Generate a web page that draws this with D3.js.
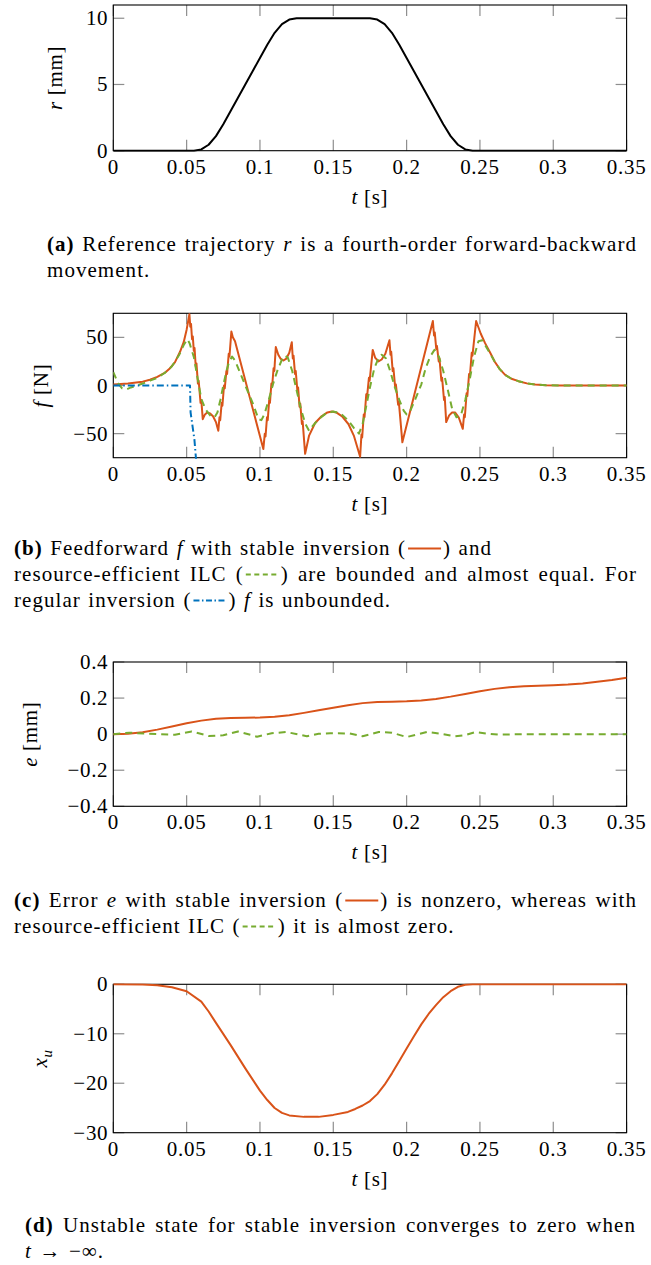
<!DOCTYPE html>
<html>
<head>
<meta charset="utf-8">
<script src="https://cdn.jsdelivr.net/npm/d3@7"></script>
<style>
body{margin:0;background:#fff}
svg text{font-family:"Liberation Serif","Times New Roman",serif;fill:#000;letter-spacing:0.7px}
svg .cap text{letter-spacing:1.05px}
</style>
</head>
<body>
<svg id="fig" width="651" height="1265"></svg>
<script>
// time axis shared by all four panels
var tTicks = [0, 0.05, 0.1, 0.15, 0.2, 0.25, 0.3, 0.35];
var tTickLabels = ["0", "0.05", "0.1", "0.15", "0.2", "0.25", "0.3", "0.35"];

// (a) reference trajectory r [mm]
var rT = [0, 0.05, 0.055, 0.06, 0.065, 0.07, 0.075, 0.08, 0.085, 0.09, 0.095, 0.1, 0.105, 0.11, 0.115, 0.12, 0.125,
          0.175, 0.18, 0.185, 0.19, 0.195, 0.2, 0.205, 0.21, 0.215, 0.22, 0.225, 0.23, 0.235, 0.24, 0.245, 0.25, 0.35];
var rV = [0, 0, 0, 0.1, 0.45, 1.1, 2.0, 3.0, 4.0, 5.0, 6.0, 7.0, 8.0, 8.9, 9.55, 9.9, 10,
          10, 9.9, 9.55, 8.9, 8.0, 7.0, 6.0, 5.0, 4.0, 3.0, 2.0, 1.1, 0.45, 0.1, 0, 0, 0];
var rTicks = [0, 5, 10];

// (b) feedforward f [N]
var fStable = [
  [0,1],[0.01,2],[0.02,4],[0.025,6],[0.03,9],[0.035,13],[0.0387,18],[0.042,24],[0.0455,35],[0.048,45],[0.05,58],[0.0519,74],
  [0.0525,61],[0.053,64],[0.0537,48],[0.0542,51],[0.0549,36],[0.0554,39],[0.0562,20],[0.0567,23],[0.0577,2],[0.0582,5],[0.0595,-18],[0.06,-15],[0.061,-35],
  [0.0625,-30],[0.064,-28],[0.066,-29],[0.068,-32],[0.07,-38],[0.0716,-47],
  [0.0724,-33],[0.0729,-36],[0.0739,-18],[0.0744,-21],[0.0755,0],[0.076,-3],[0.0771,15],[0.0776,12],[0.0787,33],[0.0792,30],[0.0805,56],
  [0.0815,50],[0.083,46],[0.1023,-66],
  [0.1033,-50],[0.1038,-53],[0.1048,-33],[0.1053,-36],[0.1063,-15],[0.1068,-18],[0.1078,2],[0.1083,-1],[0.1093,18],[0.1098,15],[0.1108,40],
  [0.1125,32],[0.114,28],[0.116,26],[0.118,28],[0.12,34],[0.1217,45],
  [0.1224,28],[0.1229,31],[0.1239,12],[0.1244,15],[0.1255,-5],[0.126,-2],[0.127,-22],[0.1275,-19],[0.1286,-40],[0.1291,-37],[0.1308,-71],
  [0.1335,-52],[0.1376,-39],[0.142,-32],[0.146,-28],[0.149,-27],[0.152,-28],[0.156,-32],[0.1603,-40],[0.164,-52],[0.1683,-74],
  [0.1692,-51],[0.1697,-54],[0.1708,-30],[0.1713,-33],[0.1725,-9],[0.173,-12],[0.1743,8],[0.1748,5],[0.1769,37],
  [0.1785,29],[0.1808,25],[0.183,27],[0.1855,33],[0.1883,47],
  [0.189,32],[0.1895,35],[0.1905,15],[0.191,18],[0.1922,-2],[0.1927,1],[0.1942,-20],[0.1947,-17],[0.1971,-59],
  [0.2179,67],
  [0.2187,52],[0.2192,55],[0.2202,38],[0.2207,41],[0.2219,25],[0.2224,28],[0.2237,5],[0.2242,8],[0.2255,-15],[0.226,-12],[0.227,-38],
  [0.229,-31],[0.231,-28],[0.233,-28],[0.2355,-33],[0.2383,-45],
  [0.2392,-30],[0.2397,-33],[0.2409,-8],[0.2414,-11],[0.2426,12],[0.2431,9],[0.2444,34],[0.2449,31],[0.2474,67],
  [0.2505,54],[0.2535,44],[0.257,34],[0.26,25],[0.2635,17],[0.2672,11],[0.2715,7],[0.2763,4.5],[0.282,2.2],[0.2877,1],[0.295,0.3],[0.305,0],[0.35,0]
];
var fIlc = [
  [0,14],[0.003,3],[0.006,-3],[0.009,-4],[0.012,-2],[0.016,0],[0.02,2],[0.025,5],[0.03,8],[0.035,13],[0.04,20],[0.045,32],[0.048,42],[0.0505,48],
  [0.052,44],[0.055,29],[0.058,3],[0.06,-14],[0.063,-25],[0.0665,-32],[0.069,-33],[0.071,-28],[0.073,-15],[0.075,0],[0.077,14],[0.079,25],[0.081,30],
  [0.083,26],[0.09,0],[0.095,-18],[0.099,-35],[0.101,-36],[0.103,-30],[0.106,-15],[0.109,2],[0.112,16],[0.115,27],[0.117,31],[0.119,29],[0.122,15],
  [0.125,-5],[0.128,-25],[0.131,-40],[0.1335,-47],[0.136,-42],[0.14,-35],[0.145,-29],[0.15,-27],[0.155,-29],[0.16,-36],[0.164,-44],[0.1675,-50],
  [0.17,-40],[0.172,-25],[0.175,-2],[0.178,18],[0.181,29],[0.183,32],[0.186,28],[0.189,14],[0.192,-2],[0.195,-15],[0.198,-26],[0.2,-30],[0.202,-28],
  [0.206,-14],[0.21,1],[0.213,18],[0.216,30],[0.219,37],[0.222,30],[0.225,15],[0.228,-4],[0.231,-24],[0.234,-33],[0.237,-31],[0.24,-15],[0.243,6],
  [0.246,30],[0.249,46],[0.2515,47],[0.2535,42],[0.257,33],[0.26,25],[0.2635,17],[0.2672,11],[0.2715,7],[0.2763,4.5],[0.282,2.2],[0.2877,1],
  [0.295,0.3],[0.305,0],[0.35,0]
];
var fRegular = [[0,0],[0.0523,0],[0.0527,-28],[0.0553,-56],[0.0566,-80]];
var fTicks = [-50, 0, 50];

// (c) error e [mm]
var eStable = [
  [0,0],[0.01,0.002],[0.02,0.01],[0.03,0.025],[0.04,0.042],[0.05,0.06],[0.06,0.075],[0.07,0.086],[0.08,0.09],[0.09,0.091],[0.1,0.092],
  [0.11,0.096],[0.12,0.105],[0.13,0.118],[0.14,0.132],[0.15,0.146],[0.16,0.16],[0.17,0.172],[0.18,0.178],[0.19,0.18],[0.2,0.182],
  [0.21,0.186],[0.22,0.195],[0.23,0.208],[0.24,0.223],[0.25,0.238],[0.26,0.251],[0.27,0.26],[0.28,0.265],[0.29,0.268],[0.3,0.271],
  [0.31,0.275],[0.32,0.281],[0.33,0.29],[0.34,0.3],[0.35,0.313]
];
var eIlc = [
  [0,0],[0.011,0.008],[0.022,0.003],[0.032,0],[0.042,-0.003],[0.0535,0.015],[0.065,-0.01],[0.075,-0.006],[0.085,0.015],[0.098,-0.014],
  [0.108,0.005],[0.118,0.012],[0.132,-0.012],[0.14,0.002],[0.148,0.005],[0.161,0.004],[0.17,-0.012],[0.181,0.012],[0.19,0.008],[0.2,-0.016],
  [0.214,0.012],[0.222,0.004],[0.233,-0.012],[0.24,-0.005],[0.247,0.012],[0.256,0.002],[0.263,-0.003],[0.28,0],[0.35,0]
];
var eTicks = [-0.4, -0.2, 0, 0.2, 0.4];
var eTickLabels = ["\u22120.4", "\u22120.2", "0", "0.2", "0.4"];

// (d) unstable state x_u
var xuT = [0, 0.02, 0.03, 0.04, 0.05, 0.06, 0.065, 0.07, 0.08, 0.09, 0.1, 0.105, 0.11, 0.115, 0.12, 0.13, 0.14, 0.15, 0.16, 0.165,
           0.17, 0.175, 0.18, 0.185, 0.19, 0.195, 0.2, 0.205, 0.21, 0.215, 0.22, 0.225, 0.23, 0.235, 0.24, 0.245, 0.35];
var xuV = [0, -0.05, -0.2, -0.6, -1.4, -3.5, -5.5, -7.8, -12.3, -17, -21.5, -23.4, -25, -26, -26.5, -26.8, -26.8, -26.4, -25.8, -25.2,
           -24.5, -23.6, -22.2, -20.3, -18, -15.5, -13, -10.5, -8.1, -6, -4.2, -2.6, -1.4, -0.5, -0.1, 0, 0];
var xuTicks = [-30, -20, -10, 0];

var RED = "#D95319", GREEN = "#77AC30", BLUE = "#0072BD";
var L = 113.3, R = 626.6, FS = 21;

var svg = d3.select("#fig");

function pairs(ts, vs) { return ts.map(function (t, i) { return [t, vs[i]]; }); }

function panel(o) {
  var x = d3.scaleLinear().domain([0, 0.35]).range([L, R]);
  var y = d3.scaleLinear().domain(o.yDomain).range([o.bottom, o.top]);
  var g = svg.append("g");

  var cid = "clip" + o.id;
  g.append("clipPath").attr("id", cid).append("rect")
    .attr("x", L).attr("y", o.top - 1).attr("width", R - L).attr("height", o.bottom - o.top + 2);

  // ticks inside the box, on all four sides
  var tk = g.append("g").attr("stroke", "#8e8e8e").attr("stroke-width", 1.2);
  tTicks.forEach(function (t) {
    tk.append("line").attr("x1", x(t)).attr("x2", x(t)).attr("y1", o.bottom).attr("y2", o.bottom - 11);
    tk.append("line").attr("x1", x(t)).attr("x2", x(t)).attr("y1", o.top).attr("y2", o.top + 11);
  });
  o.yTicks.forEach(function (v) {
    tk.append("line").attr("x1", L).attr("x2", L + 11).attr("y1", y(v)).attr("y2", y(v));
    tk.append("line").attr("x1", R).attr("x2", R - 11).attr("y1", y(v)).attr("y2", y(v));
  });

  g.append("rect").attr("x", L).attr("y", o.top).attr("width", R - L).attr("height", o.bottom - o.top)
    .attr("fill", "none").attr("stroke", "#000").attr("stroke-width", 1.1);

  var line = d3.line().x(function (d) { return x(d[0]); }).y(function (d) { return y(d[1]); });
  var cg = g.append("g").attr("clip-path", "url(#" + cid + ")");
  o.series.forEach(function (s) {
    cg.append("path").attr("d", line(s.data)).attr("fill", "none")
      .attr("stroke", s.color).attr("stroke-width", s.width || 2)
      .attr("stroke-dasharray", s.dash || null)
      .attr("stroke-linejoin", "round");
  });

  // tick labels
  tTicks.forEach(function (t, i) {
    g.append("text").attr("x", x(t)).attr("y", o.bottom + 23).attr("text-anchor", "middle")
      .style("font-size", FS + "px").text(tTickLabels[i]);
  });
  o.yTicks.forEach(function (v, i) {
    g.append("text").attr("x", L - 5).attr("y", y(v) + 7).attr("text-anchor", "end")
      .style("font-size", FS + "px").text(o.yLabels[i]);
  });

  // axis titles
  var xt = g.append("text").attr("x", (L + R) / 2).attr("y", o.bottom + 53).attr("text-anchor", "middle")
    .style("font-size", FS + "px");
  xt.append("tspan").style("font-style", "italic").text("t");
  xt.append("tspan").text(" [s]");

  var yt = g.append("text").attr("transform", "translate(" + o.yTitleX + "," + (o.top + o.bottom) / 2 + ") rotate(-90)")
    .attr("text-anchor", "middle").attr("dy", "0.32em").style("font-size", FS + "px");
  o.yTitle(yt);
}

panel({
  id: "a", top: 5, bottom: 150.7, yDomain: [0, 11], yTicks: rTicks, yLabels: rTicks.map(String), yTitleX: 55,
  yTitle: function (t) { t.append("tspan").style("font-style", "italic").text("r"); t.append("tspan").text(" [mm]"); },
  series: [{ data: pairs(rT, rV), color: "#000" }]
});

panel({
  id: "b", top: 313.3, bottom: 457.7, yDomain: [-75, 75], yTicks: fTicks, yLabels: ["\u221250", "0", "50"], yTitleX: 41,
  yTitle: function (t) { t.append("tspan").style("font-style", "italic").text("f"); t.append("tspan").text(" [N]"); },
  series: [
    { data: fStable, color: RED },
    { data: fIlc, color: GREEN, dash: "7,5" },
    { data: fRegular, color: BLUE, dash: "7,3,1.5,3" }
  ]
});

panel({
  id: "c", top: 662, bottom: 806.3, yDomain: [-0.4, 0.4], yTicks: eTicks, yLabels: eTickLabels, yTitleX: 30,
  yTitle: function (t) { t.append("tspan").style("font-style", "italic").text("e"); t.append("tspan").text(" [mm]"); },
  series: [
    { data: eStable, color: RED },
    { data: eIlc, color: GREEN, dash: "7,5" }
  ]
});

panel({
  id: "d", top: 984.3, bottom: 1132.7, yDomain: [-30, 0], yTicks: xuTicks, yLabels: ["\u221230", "\u221220", "\u221210", "0"], yTitleX: 40,
  yTitle: function (t) {
    t.append("tspan").style("font-style", "italic").text("x");
    t.append("tspan").style("font-style", "italic").style("font-size", "15px").attr("dy", 5).text("u");
  },
  series: [{ data: pairs(xuT, xuV), color: RED }]
});

// captions: **bold**, *italic*, [red]/[green]/[blue] = legend sample
var GLYPH = { red: null, green: "5,3.5", blue: "6,2.5,1.5,2.5" };
var COL = { red: RED, green: GREEN, blue: BLUE };
var SPACE = 7.5;

function caption(lines, x0, x1) {
  lines.forEach(function (ln) {
    var gl = svg.append("g").attr("class", "cap");
    var words = ln.text.split(" ").map(function (w) {
      var gw = gl.append("g"), cx = 0;
      w.split(/(\*\*[^*]+\*\*|\*[^*]+\*|\[\w+\])/).filter(function (p) { return p !== ""; }).forEach(function (p) {
        if (/^\[\w+\]$/.test(p)) {
          var k = p.slice(1, -1);
          gw.append("line").attr("x1", cx + 2).attr("x2", cx + 35).attr("y1", -6.5).attr("y2", -6.5)
            .attr("stroke", COL[k]).attr("stroke-width", 2).attr("stroke-dasharray", GLYPH[k]);
          cx += 37;
        } else {
          var s = p, t = gw.append("text").attr("x", cx).attr("y", 0).style("font-size", FS + "px");
          if (p.indexOf("**") === 0) { s = p.slice(2, -2); t.style("font-weight", "bold"); }
          else if (p.indexOf("*") === 0) { s = p.slice(1, -1); t.style("font-style", "italic"); }
          t.text(s);
          cx += t.node().getComputedTextLength();
        }
      });
      return { g: gw, w: cx };
    });
    var total = d3.sum(words, function (d) { return d.w; });
    var gap = ln.justify ? (x1 - x0 - total) / (words.length - 1) : SPACE;
    var cx = x0;
    words.forEach(function (d) {
      d.g.attr("transform", "translate(" + cx + "," + ln.y + ")");
      cx += d.w + gap;
    });
  });
}

caption([
  { y: 251, justify: true, text: "**(a)** Reference trajectory *r* is a fourth-order forward-backward" },
  { y: 277, text: "movement." }
], 47, 637);

caption([
  { y: 555, text: "**(b)** Feedforward *f* with stable inversion ([red]) and" },
  { y: 581, justify: true, text: "resource-efficient ILC ([green]) are bounded and almost equal. For" },
  { y: 607, text: "regular inversion ([blue]) *f* is unbounded." }
], 14, 637);

caption([
  { y: 907, justify: true, text: "**(c)** Error *e* with stable inversion ([red]) is nonzero, whereas with" },
  { y: 933, text: "resource-efficient ILC ([green]) it is almost zero." }
], 14, 637);

caption([
  { y: 1232, justify: true, text: "**(d)** Unstable state for stable inversion converges to zero when" },
  { y: 1258, text: "*t* \u2192 \u2212\u221e." }
], 25, 636);
</script>
</body>
</html>
